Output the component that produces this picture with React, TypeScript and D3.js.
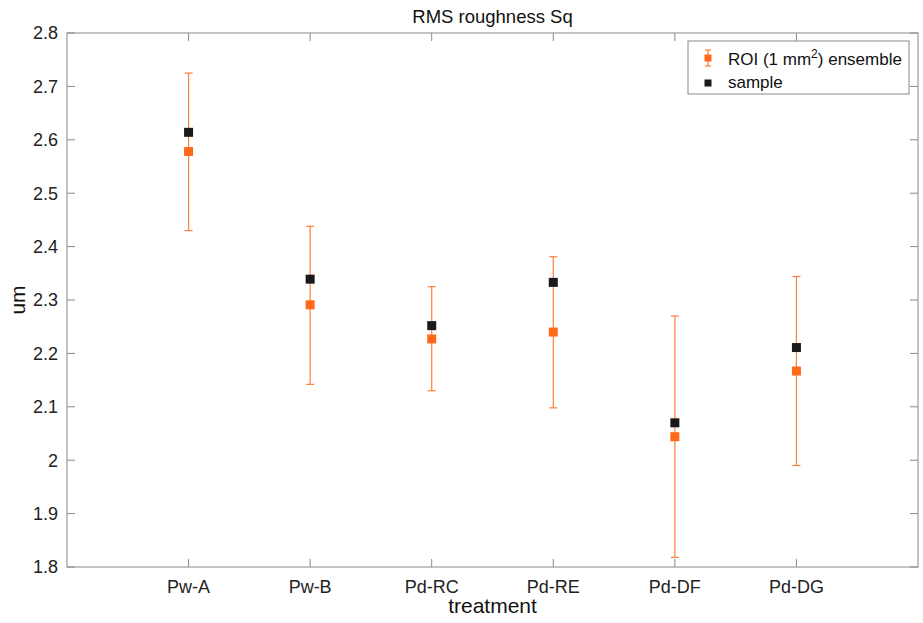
import React from "react";
import * as d3 from "d3";

const categories = ["Pw-A", "Pw-B", "Pd-RC", "Pd-RE", "Pd-DF", "Pd-DG"];
const roiMean = [2.578, 2.291, 2.227, 2.240, 2.044, 2.167];
const roiLow = [2.430, 2.142, 2.130, 2.098, 1.818, 1.990];
const roiHigh = [2.725, 2.438, 2.325, 2.381, 2.270, 2.344];
const sampleVal = [2.614, 2.339, 2.252, 2.333, 2.070, 2.211];
const yTicks = [1.8, 1.9, 2, 2.1, 2.2, 2.3, 2.4, 2.5, 2.6, 2.7, 2.8];

const W = 923, H = 623;
const L = 67, R = 918, T = 33, B = 567;
const ORANGE = "#ff6a1a";
const BLACK = "#1a1a1a";
const AX = "#8a8a8a";
const FONT = "'Liberation Sans', Arial, Helvetica, sans-serif";

export default function App() {
  const x = d3.scaleLinear().domain([0, 7]).range([L, R]);
  const y = d3.scaleLinear().domain([1.8, 2.8]).range([B, T]);
  const ms = 9;
  const cap = 4;
  return (
    <svg width={W} height={H} style={{ position: "absolute", left: 0, top: 0 }} fontFamily={FONT}>
      <rect x={0} y={0} width={W} height={H} fill="#fff" />
      {/* axes box */}
      <rect x={L} y={T} width={R - L} height={B - T} fill="none" stroke={AX} strokeWidth={1} />
      {yTicks.map((t) => (
        <g key={"y" + t}>
          <line x1={L} x2={L + 8} y1={y(t)} y2={y(t)} stroke={AX} />
          <line x1={R} x2={R - 8} y1={y(t)} y2={y(t)} stroke={AX} />
          <text x={L - 9} y={y(t)} dy="0.35em" textAnchor="end" fontSize={18} fill="#222">
            {d3.format("")(t)}
          </text>
        </g>
      ))}
      {categories.map((c, i) => (
        <g key={"x" + c}>
          <line x1={x(i + 1)} x2={x(i + 1)} y1={B} y2={B - 8} stroke={AX} />
          <line x1={x(i + 1)} x2={x(i + 1)} y1={T} y2={T + 8} stroke={AX} />
          <text x={x(i + 1)} y={B + 26} textAnchor="middle" fontSize={18} fill="#222">
            {c}
          </text>
        </g>
      ))}
      {/* error bars */}
      {categories.map((c, i) => {
        const cx = x(i + 1);
        return (
          <g key={"e" + c} stroke={ORANGE} strokeOpacity={0.85} strokeWidth={1.2}>
            <line x1={cx} x2={cx} y1={y(roiLow[i])} y2={y(roiHigh[i])} />
            <line x1={cx - cap} x2={cx + cap} y1={y(roiLow[i])} y2={y(roiLow[i])} />
            <line x1={cx - cap} x2={cx + cap} y1={y(roiHigh[i])} y2={y(roiHigh[i])} />
          </g>
        );
      })}
      {categories.map((c, i) => (
        <rect key={"r" + c} x={x(i + 1) - ms / 2} y={y(roiMean[i]) - ms / 2} width={ms} height={ms} fill={ORANGE} />
      ))}
      {categories.map((c, i) => (
        <rect key={"s" + c} x={x(i + 1) - ms / 2} y={y(sampleVal[i]) - ms / 2} width={ms} height={ms} fill={BLACK} />
      ))}
      {/* title and labels */}
      <text x={(L + R) / 2} y={23} textAnchor="middle" fontSize={18.5} fill="#111">RMS roughness Sq</text>
      <text x={(L + R) / 2} y={613} textAnchor="middle" fontSize={21} fill="#111">treatment</text>
      <text transform={`translate(25,${(T + B) / 2}) rotate(-90)`} textAnchor="middle" fontSize={21} fill="#111">um</text>
      {/* legend */}
      <g>
        <rect x={688} y={41} width={221} height={53} fill="#fff" stroke={AX} />
        <g stroke={ORANGE} strokeOpacity={0.85} strokeWidth={1.2}>
          <line x1={708} x2={708} y1={50} y2={66} />
          <line x1={705} x2={711} y1={50} y2={50} />
          <line x1={705} x2={711} y1={66} y2={66} />
        </g>
        <rect x={704.5} y={54.5} width={7} height={7} fill={ORANGE} />
        <rect x={704.5} y={79.5} width={7} height={7} fill={BLACK} />
        <text x={728} y={65} fontSize={17} fill="#111">
          ROI (1 mm<tspan dy={-7} fontSize={12}>2</tspan><tspan dy={7}>) ensemble</tspan>
        </text>
        <text x={728} y={88} fontSize={17} fill="#111">sample</text>
      </g>
    </svg>
  );
}
